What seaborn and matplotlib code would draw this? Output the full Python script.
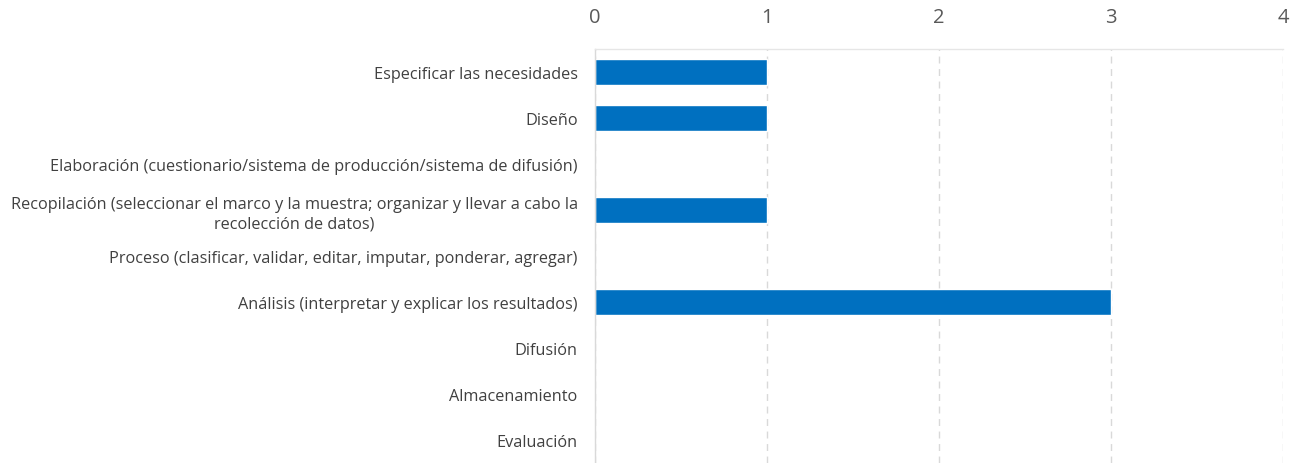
import pandas as pd
import seaborn as sns
import matplotlib.pyplot as plt

# Data
stages = [
    "Especificar las necesidades",
    "Diseño",
    "Elaboración (cuestionario/sistema de producción/sistema de difusión)",
    "Recopilación (seleccionar el marco y la muestra; organizar y llevar a cabo la\nrecolección de datos)",
    "Proceso (clasificar, validar, editar, imputar, ponderar, agregar)",
    "Análisis (interpretar y explicar los resultados)",
    "Difusión",
    "Almacenamiento",
    "Evaluación",
]
counts = [1, 1, 0, 1, 0, 3, 0, 0, 0]
x_ticks = [0, 1, 2, 3, 4]

df = pd.DataFrame({"stage": stages, "count": counts})

sns.set_style("white")
plt.rcParams["font.family"] = ["Open Sans", "DejaVu Sans"]

fig = plt.figure(figsize=(12.98, 4.64), dpi=100)
ax = fig.add_axes([0.4584, 0.0, 0.5300, 0.892])

sns.barplot(data=df, y="stage", x="count", color="#0070C0", width=0.57,
            saturation=1, orient="h", ax=ax)

ax.set_xlim(0, 4)
ax.set_ylim(len(stages) - 0.5, -0.5)
ax.set_xticks(x_ticks)
ax.xaxis.tick_top()
ax.tick_params(axis="x", length=0, pad=16, labelsize=14.5, labelcolor="#595959")
ax.tick_params(axis="y", length=0, pad=12.5, labelsize=11.7, labelcolor="#404040")
for lbl in ax.get_yticklabels():
    lbl.set_multialignment("center")
    lbl.set_linespacing(1.3)
ax.set_xlabel("")
ax.set_ylabel("")

ax.grid(axis="x", color="#D9D9D9", linestyle=(0, (5, 4)), linewidth=1)
ax.set_axisbelow(True)
for side in ["right", "bottom"]:
    ax.spines[side].set_visible(False)
ax.spines["left"].set_color("#D9D9D9")
ax.spines["top"].set_color("#E6E6E6")
ax.spines["left"].set_linewidth(1)
ax.spines["top"].set_linewidth(1)

fig.savefig("out.png", dpi=100)
